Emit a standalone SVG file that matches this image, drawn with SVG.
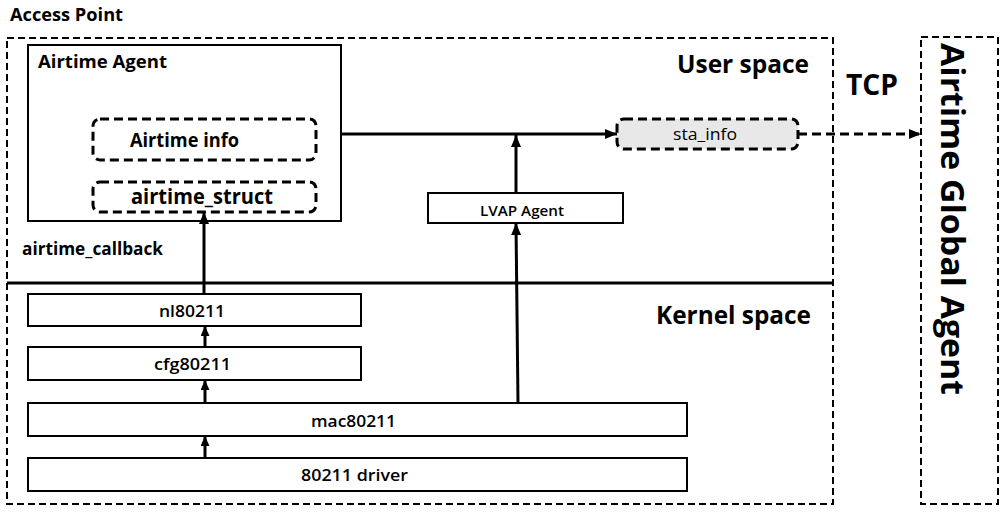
<svg xmlns="http://www.w3.org/2000/svg" width="1003" height="512" viewBox="0 0 1003 512">
<style>
.t{font-family:"Open Sans","Liberation Sans",sans-serif;fill:#000}
.b{font-weight:700}
.sb{font-weight:600}
.outer{fill:none;stroke:#000;stroke-width:2;stroke-dasharray:7 4}
.box{fill:#fff;stroke:#000;stroke-width:2}
.dbox{fill:#fff;stroke:#000;stroke-width:3;stroke-dasharray:9 5}
.ln{fill:none;stroke:#000;stroke-width:3}
</style>
<defs>
<marker id="ah" markerUnits="userSpaceOnUse" markerWidth="12" markerHeight="10" refX="12" refY="5" orient="auto">
<path d="M0,0 L12,5 L0,10 z" fill="#000"/>
</marker>
<marker id="as" markerUnits="userSpaceOnUse" markerWidth="10" markerHeight="9" refX="10" refY="4.5" orient="auto">
<path d="M0,0 L10,4.5 L0,9 z" fill="#000"/>
</marker>
</defs>
<rect width="1003" height="512" fill="#fff"/>

<g id="access-point">
<text class="t b" x="10" y="21" font-size="17" textLength="113" lengthAdjust="spacingAndGlyphs">Access Point</text>
<rect class="outer" x="7" y="38" width="826" height="466"/>
<text class="t b" x="677" y="73" font-size="25" textLength="132" lengthAdjust="spacingAndGlyphs">User space</text>
<text class="t b" x="656" y="324" font-size="25" textLength="155" lengthAdjust="spacingAndGlyphs">Kernel space</text>
<text class="t b" x="22" y="255" font-size="17" textLength="141" lengthAdjust="spacingAndGlyphs">airtime_callback</text>
</g>

<g id="tcp-label">
<text class="t b" x="846" y="95" font-size="29" textLength="52" lengthAdjust="spacingAndGlyphs">TCP</text>
</g>

<g id="airtime-global-agent">
<rect class="outer" x="921" y="37" width="77" height="467"/>
<text class="t b" transform="translate(941,43) rotate(90)" x="0" y="0" font-size="32" textLength="352" lengthAdjust="spacingAndGlyphs">Airtime Global Agent</text>
</g>

<g id="airtime-agent">
<rect class="box" x="28" y="45" width="313" height="176"/>
<text class="t b" x="38" y="68" font-size="18" textLength="129" lengthAdjust="spacingAndGlyphs">Airtime Agent</text>
</g>

<g id="airtime-info">
<rect class="dbox" x="93" y="119" width="223" height="41" rx="7"/>
<text class="t b" x="130" y="147" font-size="19" textLength="109" lengthAdjust="spacingAndGlyphs">Airtime info</text>
</g>

<g id="airtime-struct">
<rect class="dbox" x="93" y="182" width="223" height="30" rx="7"/>
<text class="t b" x="131" y="204" font-size="21" textLength="142" lengthAdjust="spacingAndGlyphs">airtime_struct</text>
</g>

<g id="sta-info">
<rect class="dbox" x="617" y="119" width="181" height="30" rx="7" style="fill:#e8e8e8"/>
<text class="t" x="673" y="140" font-size="16" textLength="64" lengthAdjust="spacingAndGlyphs">sta_info</text>
</g>

<g id="lvap-agent">
<rect class="box" x="428" y="193" width="195" height="30"/>
<text class="t sb" x="480" y="216" font-size="14" textLength="84" lengthAdjust="spacingAndGlyphs">LVAP Agent</text>
</g>

<g id="nl80211">
<rect class="box" x="28" y="294" width="333" height="32"/>
<text class="t sb" x="159" y="317" font-size="17" textLength="66" lengthAdjust="spacingAndGlyphs">nl80211</text>
</g>

<g id="cfg80211">
<rect class="box" x="28" y="347" width="333" height="33"/>
<text class="t sb" x="154" y="370" font-size="17" textLength="77" lengthAdjust="spacingAndGlyphs">cfg80211</text>
</g>

<g id="mac80211">
<rect class="box" x="28" y="403" width="659" height="33"/>
<text class="t sb" x="311" y="427" font-size="17" textLength="85" lengthAdjust="spacingAndGlyphs">mac80211</text>
</g>

<g id="driver">
<rect class="box" x="28" y="458" width="659" height="33"/>
<text class="t sb" x="301" y="481" font-size="17" textLength="107" lengthAdjust="spacingAndGlyphs">80211 driver</text>
</g>

<g id="connectors">
<line x1="7" y1="283" x2="833" y2="283" stroke="#000" stroke-width="3"/>
<line class="ln" x1="341" y1="134" x2="617" y2="134" marker-end="url(#ah)"/>
<line class="ln" x1="516" y1="193" x2="516" y2="135" marker-end="url(#ah)"/>
<line class="ln" x1="518" y1="403" x2="516" y2="223" marker-end="url(#ah)"/>
<line class="ln" x1="204" y1="294" x2="204" y2="212" marker-end="url(#ah)"/>
<line class="ln" x1="205" y1="347" x2="205" y2="326" marker-end="url(#as)"/>
<line class="ln" x1="205" y1="403" x2="205" y2="380" marker-end="url(#as)"/>
<line class="ln" x1="205" y1="458" x2="205" y2="436" marker-end="url(#as)"/>
<line class="ln" x1="798" y1="134" x2="921" y2="134" stroke-dasharray="9 5" marker-end="url(#ah)"/>
</g>
</svg>
